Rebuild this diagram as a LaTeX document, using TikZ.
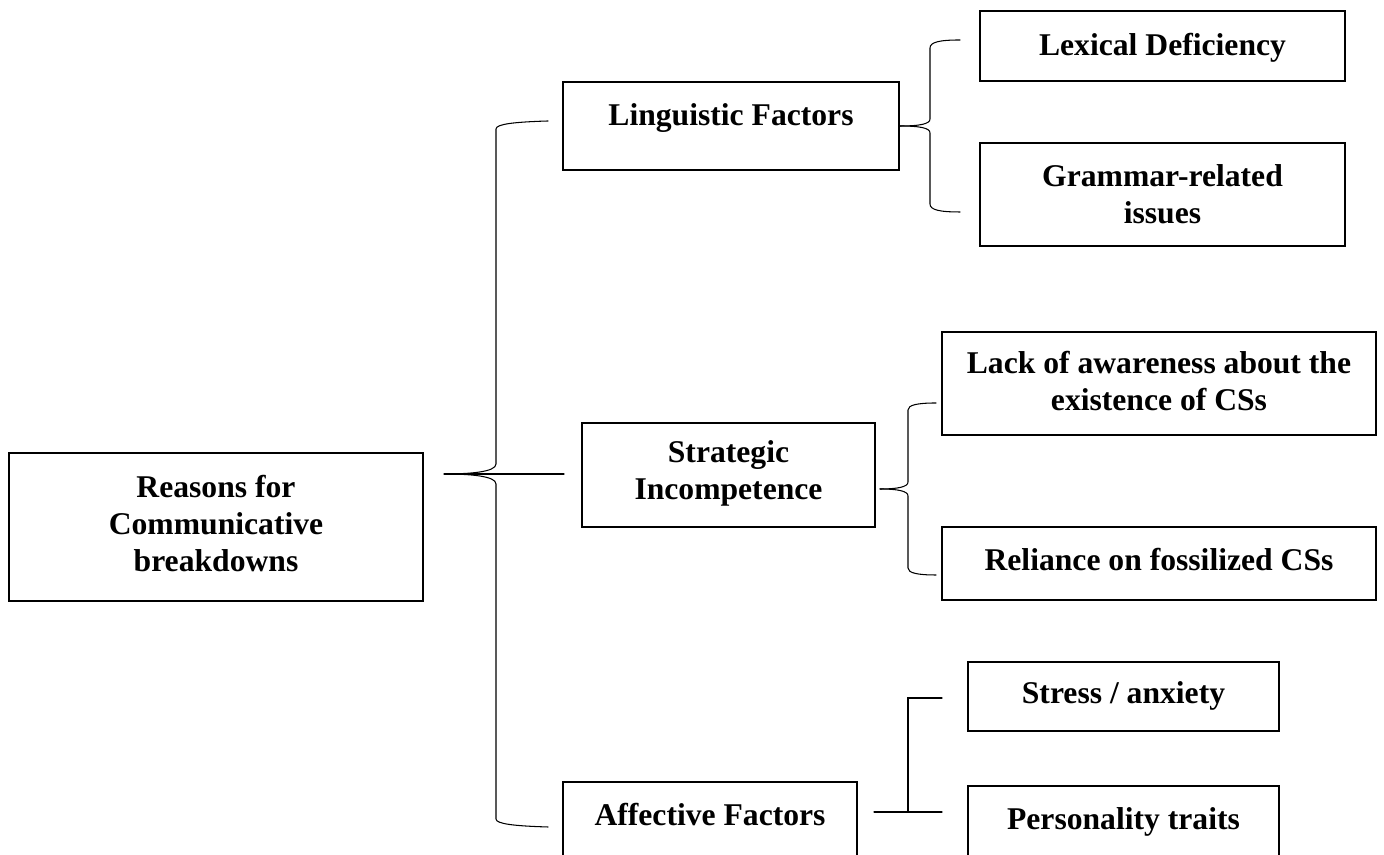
\documentclass[tikz,border=0pt]{standalone}
\usepackage{fontspec}
\setmainfont{Liberation Serif}
\usepackage{tikz}

\begin{document}
\begin{tikzpicture}[line cap=round,
  box/.style={draw,line width=0.9pt,inner sep=0pt},
  txt/.style={anchor=north,align=center,inner sep=0pt,font=\fontsize{18}{21}\selectfont\bfseries},
  conn/.style={line width=0.6pt}]
\useasboundingbox (0,0) rectangle (27.68,17.1);
% boxes
\node[box,minimum width=8.28cm,minimum height=2.96cm] (root) at (4.32,6.56) {};
\node[box,minimum width=6.72cm,minimum height=1.76cm] (ling) at (14.62,14.58) {};
\node[box,minimum width=5.86cm,minimum height=2.08cm] (strat) at (14.57,7.60) {};
\node[box,minimum width=5.88cm,minimum height=1.76cm] (aff) at (14.20,0.58) {};
\node[box,minimum width=7.30cm,minimum height=1.40cm] (lex) at (23.25,16.18) {};
\node[box,minimum width=7.30cm,minimum height=2.06cm] (gram) at (23.25,13.21) {};
\node[box,minimum width=8.68cm,minimum height=2.06cm] (lack) at (23.18,9.43) {};
\node[box,minimum width=8.68cm,minimum height=1.46cm] (rel) at (23.18,5.83) {};
\node[box,minimum width=6.22cm,minimum height=1.38cm] (stress) at (22.47,3.17) {};
\node[box,minimum width=6.22cm,minimum height=1.76cm] (pers) at (22.47,0.50) {};
% texts
\node[txt] (root-t) at ([yshift=-0.46cm]root.north) {Reasons for\\Communicative\\breakdowns};
\node[txt] (ling-t) at ([yshift=-0.44cm]ling.north) {Linguistic Factors};
\node[txt] (strat-t) at ([yshift=-0.36cm]strat.north) {Strategic\\Incompetence};
\node[txt] (aff-t) at ([yshift=-0.44cm]aff.north) {Affective Factors};
\node[txt] (lex-t) at ([yshift=-0.46cm]lex.north) {Lexical Deficiency};
\node[txt] (gram-t) at ([yshift=-0.44cm]gram.north) {Grammar-related\\issues};
\node[txt] (lack-t) at ([yshift=-0.40cm]lack.north) {Lack of awareness about the\\existence of CSs};
\node[txt] (rel-t) at ([yshift=-0.44cm]rel.north) {Reliance on fossilized CSs};
\node[txt] (stress-t) at ([yshift=-0.40cm]stress.north) {Stress / anxiety};
\node[txt] (pers-t) at ([yshift=-0.44cm]pers.north) {Personality traits};
% free ends
\coordinate (big-tip) at (8.88,7.62);
\coordinate (ling-in) at (10.96,14.68);
\coordinate (aff-in) at (10.96,0.56);
\coordinate (strat-in) at (11.28,7.62);
\coordinate (lex-in) at (19.20,16.30);
\coordinate (gram-in) at (19.20,12.86);
\coordinate (strat-tip) at (17.60,7.32);
\coordinate (lack-in) at (18.72,9.04);
\coordinate (rel-in) at (18.72,5.60);
\coordinate (aff-out) at (17.48,0.86);
\coordinate (aff-mid) at (18.16,0.86);
\coordinate (stress-in) at (18.84,3.14);
\coordinate (pers-in) at (18.84,0.86);
% main brace
\draw[conn] (ling-in) .. controls (10.3,14.66) and (9.92,14.62) .. (9.92,14.52) -- (9.92,7.82)
  .. controls (9.92,7.66) and (9.4,7.62) .. (big-tip)
  .. controls (9.4,7.62) and (9.92,7.58) .. (9.92,7.42) -- (9.92,0.72)
  .. controls (9.92,0.62) and (10.3,0.58) .. (aff-in);
\draw[conn] (big-tip) -- (strat-in);
% linguistic brace
\draw[conn] (ling.east) .. controls (18.4,14.58) and (18.6,14.62) .. (18.6,14.72) -- (18.6,16.14)
  .. controls (18.6,16.26) and (18.8,16.30) .. (lex-in);
\draw[conn] (ling.east) .. controls (18.4,14.58) and (18.6,14.54) .. (18.6,14.44) -- (18.6,13.02)
  .. controls (18.6,12.90) and (18.8,12.86) .. (gram-in);
% strategic brace
\draw[conn] (strat-tip) .. controls (17.95,7.32) and (18.16,7.36) .. (18.16,7.46) -- (18.16,8.90)
  .. controls (18.16,9.00) and (18.35,9.04) .. (lack-in);
\draw[conn] (strat-tip) .. controls (17.95,7.32) and (18.16,7.28) .. (18.16,7.18) -- (18.16,5.74)
  .. controls (18.16,5.64) and (18.35,5.60) .. (rel-in);
% affective fork
\draw[conn] (aff-out) -- (pers-in);
\draw[conn] (aff-mid) |- (stress-in);
\end{tikzpicture}
\end{document}
